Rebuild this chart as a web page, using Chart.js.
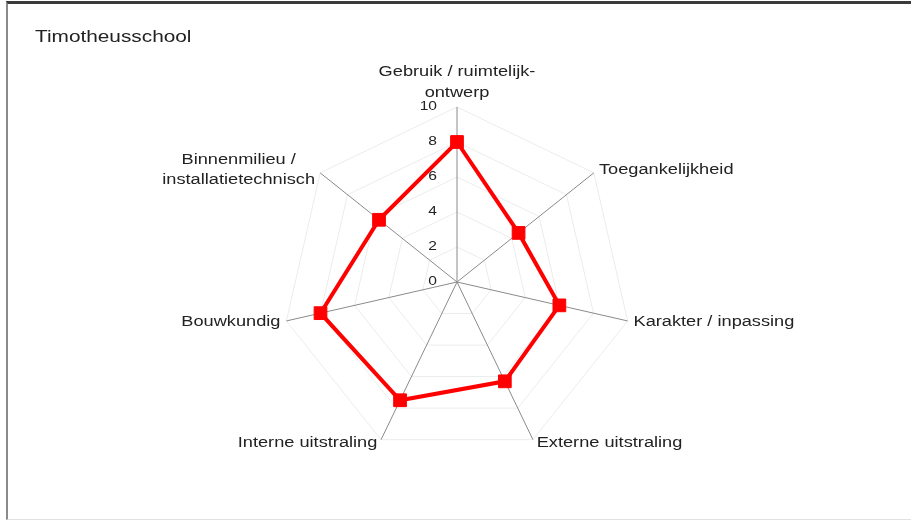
<!DOCTYPE html>
<html>
<head>
<meta charset="utf-8">
<title>Timotheusschool</title>
<script src="https://cdn.jsdelivr.net/npm/chart.js@4/dist/chart.umd.min.js"></script>
<style>
  body { margin: 0; background: #fff; }
  #wrap { position: relative; width: 911px; height: 520px; }
  #chart { position: absolute; left: 0; top: 0; }
  #frame {
    position: absolute; left: 6px; top: 1px; width: 905px; height: 515px;
    border-top: 3px solid #3a3a3a; border-left: 2px solid #8a8a8a; border-bottom: 1px solid #e2e2e2;
    pointer-events: none;
  }
  #title {
    position: absolute; left: 35px; top: 28px;
    font: 16px "Liberation Sans", Arial, sans-serif; color: #222;
    transform: scaleX(1.3); transform-origin: left center;
  }
</style>
</head>
<body>
<div id="wrap">
  <canvas id="chart" width="911" height="520"></canvas>
  <div id="frame"></div>
  <div id="title">Timotheusschool</div>
</div>
<script>
'use-strict';

// axis names (multi-line where the picture wraps them)
var categories = [
  ['Gebruik / ruimtelijk-', 'ontwerp'],
  'Toegankelijkheid',
  'Karakter / inpassing',
  'Externe uitstraling',
  'Interne uitstraling',
  'Bouwkundig',
  ['Binnenmilieu /', 'installatietechnisch']
];
var scores = [8, 4.5, 6, 6.3, 7.5, 8, 5.7];
var tickValues = [0, 2, 4, 6, 8, 10];

// text in the picture is drawn wide, so stretch it a bit
var SX = 1.3;

function drawText(ctx, txt, x, y, align) {
  var w = ctx.measureText(txt).width * SX;
  var left = x;
  if (align === 'right') left = x - w;
  else if (align === 'center') left = x - w / 2;
  ctx.save();
  ctx.translate(left, y);
  ctx.scale(SX, 1);
  ctx.textAlign = 'left';
  ctx.fillText(txt, 0, 0);
  ctx.restore();
}

// tick numbers and axis names, placed from the radial scale
var axisText = {
  id: 'axisText',
  afterDraw: function(chart) {
    var r = chart.scales.r;
    var ctx = chart.ctx;
    ctx.save();
    ctx.fillStyle = '#222';
    ctx.textBaseline = 'middle';

    ctx.font = '12px "Liberation Sans", Arial, sans-serif';
    tickValues.forEach(function(v) {
      var y = r.yCenter - r.getDistanceFromCenterForValue(v);
      drawText(ctx, String(v), r.xCenter - 20, y, 'right');
    });

    ctx.font = '14px "Liberation Sans", Arial, sans-serif';
    var lineH = 21;
    categories.forEach(function(lab, i) {
      var lines = Array.isArray(lab) ? lab : [lab];
      var dx = r.getPointPosition(i, r.drawingArea).x - r.xCenter;
      if (Math.abs(dx) < 1) {
        // top axis: centred above the spoke
        var top = r.getPointPosition(i, r.drawingArea + 14);
        for (var k = lines.length - 1, n = 0; k >= 0; k--, n++) {
          drawText(ctx, lines[k], top.x, top.y - n * lineH, 'center');
        }
        return;
      }
      var pos = r.getPointPosition(i, r.drawingArea + 4);
      var blockW = 0;
      lines.forEach(function(t) { blockW = Math.max(blockW, ctx.measureText(t).width * SX); });
      var cx = dx > 0 ? pos.x + 2 + blockW / 2 : pos.x - 2 - blockW / 2;
      var y0 = pos.y - (lines.length - 1) * lineH / 2;
      lines.forEach(function(t, k) {
        drawText(ctx, t, cx, y0 + k * (lineH - 1), 'center');
      });
    });
    ctx.restore();
  }
};

var ctx = document.getElementById('chart').getContext('2d');
var chart = new Chart(ctx, {
  type: 'radar',
  data: {
    labels: categories,
    datasets: [{
      label: 'Timotheusschool',
      data: scores,
      borderColor: '#ff0000',
      backgroundColor: '#ff0000',
      borderWidth: 4,
      fill: false,
      tension: 0,
      pointStyle: 'rect',
      pointRadius: 9,
      pointBorderWidth: 1,
      pointBackgroundColor: '#ff0000',
      pointBorderColor: '#ff0000'
    }]
  },
  options: {
    responsive: false,
    animation: false,
    layout: { padding: { left: 100, right: 97, top: 107, bottom: 63 } },
    plugins: {
      legend: { display: false },
      title: { display: false },
      tooltip: { enabled: false }
    },
    scales: {
      r: {
        min: 0,
        max: 10,
        ticks: { display: false, stepSize: 2 },
        pointLabels: { display: false },
        grid: { color: '#ececec', lineWidth: 1 },
        angleLines: { color: '#8a8a8a', lineWidth: 1 }
      }
    }
  },
  plugins: [axisText]
});
</script>
</body>
</html>
